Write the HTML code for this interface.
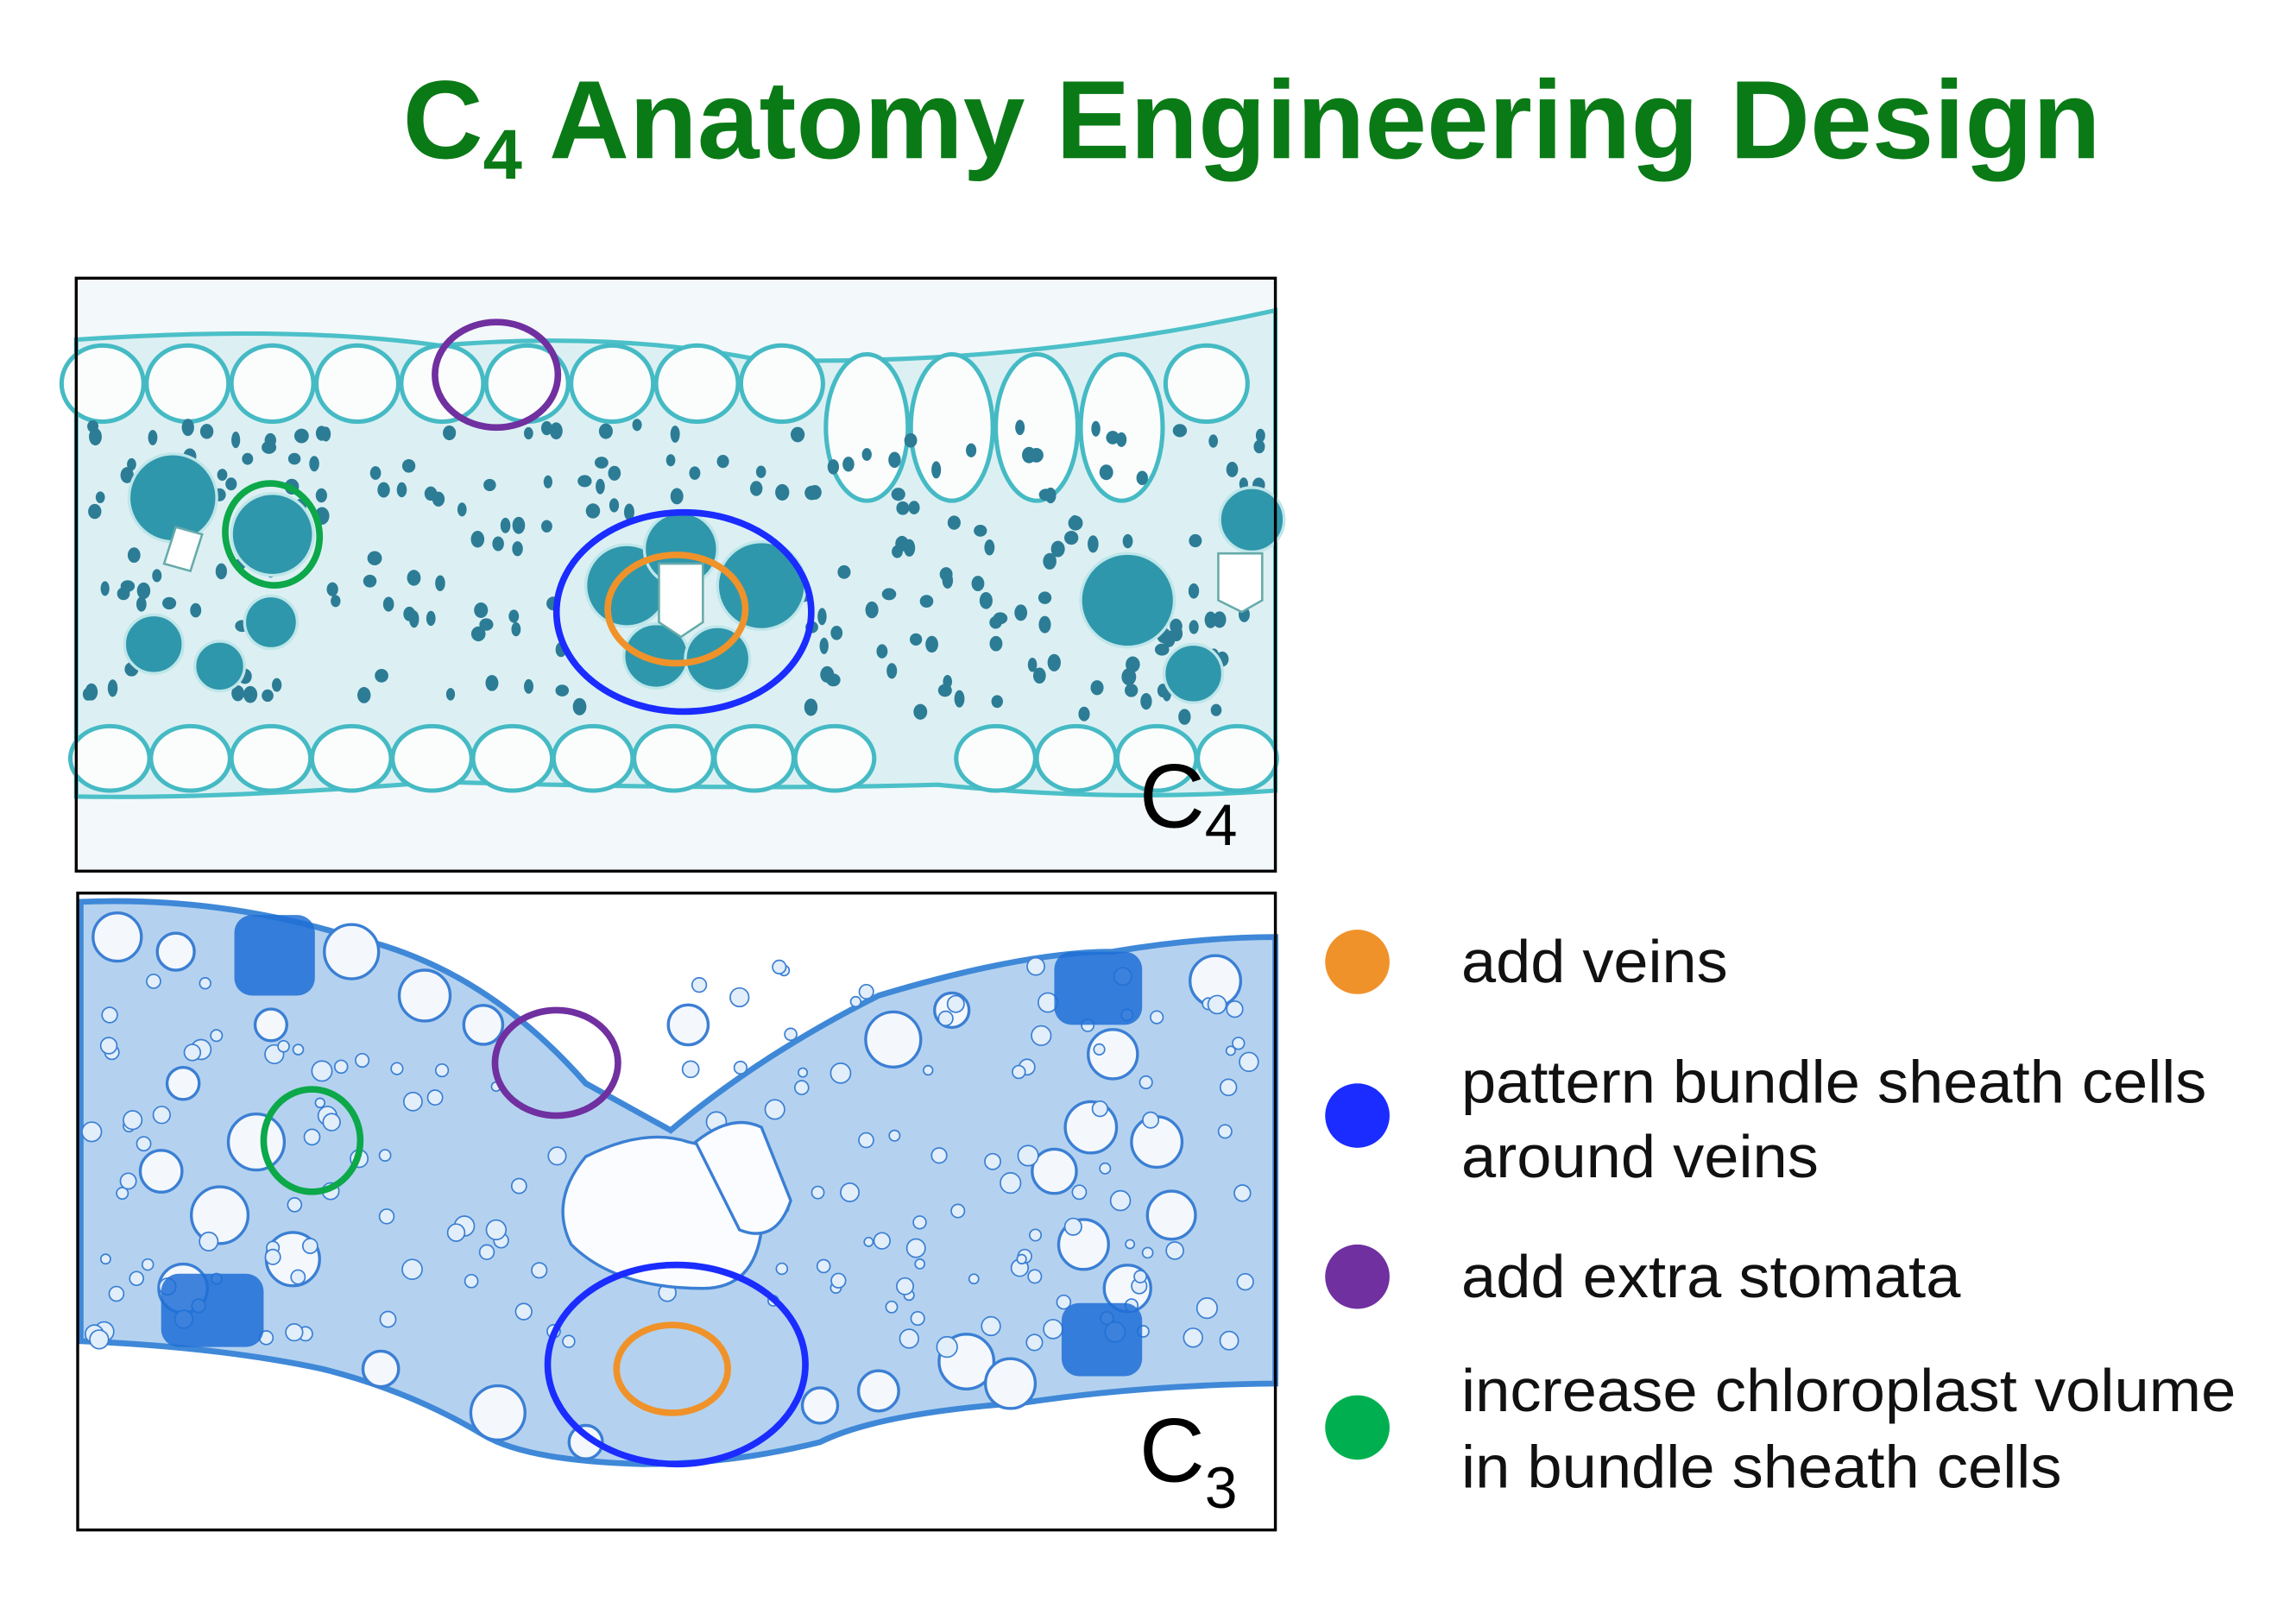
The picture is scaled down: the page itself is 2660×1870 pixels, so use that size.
<!DOCTYPE html>
<html><head><meta charset="utf-8"><style>
html,body{margin:0;padding:0;background:#fff;}
svg{display:block;}
</style></head><body>
<svg id="s" width="2660" height="1870" viewBox="0 0 1568 1102.4" xmlns="http://www.w3.org/2000/svg">
<rect width="1568" height="1102.4" fill="#fff"/>
<text x="275" y="108" font-family="Liberation Sans, sans-serif" font-weight="bold" font-size="76" fill="#0a7a16">C<tspan font-size="48" dy="14">4</tspan><tspan dy="-14"> Anatomy Engineering Design</tspan></text>

<!-- top panel -->
<g id="top">
<rect x="52" y="190" width="819" height="405" fill="#f3f8fa"/>
<path d="M52,232 Q200,222 300,236 Q420,226 520,246 Q700,250 871,212 L871,540 Q760,548 640,536 Q500,540 300,534 Q150,546 52,544 Z" fill="#dcf0f3" stroke="#4cc0c8" stroke-width="3"/>
<g id="topcells" fill="#fbfdfd" stroke="#45bac4" stroke-width="3"></g>
<g id="topdots" fill="#2c7c96"></g>
<g fill="#2f97ab" stroke="#bfe6ea" stroke-width="2">
<circle cx="428" cy="400" r="28"/><circle cx="520" cy="400" r="30"/><circle cx="465" cy="375" r="25"/>
<circle cx="448" cy="448" r="22"/><circle cx="490" cy="450" r="22"/>
<circle cx="118" cy="340" r="30"/><circle cx="186" cy="365" r="28"/><circle cx="105" cy="440" r="20"/><circle cx="150" cy="455" r="17"/><circle cx="185" cy="425" r="18"/>
<circle cx="770" cy="410" r="32"/><circle cx="855" cy="355" r="22"/><circle cx="815" cy="460" r="20"/>
</g>
<path d="M450,385 L450,425 L465,435 L480,425 L480,385 Z" fill="#fff" stroke="#6aa" stroke-width="1.5"/>
<path d="M120,360 L112,385 L130,390 L138,365 Z" fill="#fff" stroke="#6aa" stroke-width="1.5"/>
<path d="M832,378 L832,410 L848,418 L862,410 L862,378 Z" fill="#fff" stroke="#6aa" stroke-width="1.5"/>
<rect x="52" y="190" width="819" height="405" fill="none" stroke="#000" stroke-width="2"/>
<text x="778" y="565" font-family="Liberation Sans, sans-serif" font-size="62" fill="#000">C<tspan font-size="40" dy="12">4</tspan></text>
<g fill="none" stroke-width="4.5">
<ellipse cx="339" cy="256" rx="42" ry="36" stroke="#7030a0"/>
<ellipse cx="186" cy="365" rx="32" ry="35" transform="rotate(-15 186 365)" stroke="#0ca84a"/>
<ellipse cx="467" cy="418" rx="87" ry="68" stroke="#1a2cff"/>
<ellipse cx="462" cy="416" rx="47" ry="37" stroke="#f0922a"/>
</g>
</g>

<!-- bottom panel -->
<g id="bot">
<rect x="53" y="610" width="818" height="435" fill="#fff"/>
<path id="bt" d="M55,616 Q150,612 240,640 Q330,660 400,740 L458,772 Q520,720 600,680 Q700,650 760,650 Q820,640 871,640 L871,945 Q780,946 700,958 Q600,965 560,985 Q500,1000 440,1000 Q360,998 330,980 Q280,950 220,935 Q150,920 55,916 Z" fill="#b4d2ef" stroke="#3f88d8" stroke-width="4"/>
<g id="botcells" fill="#f4f8fd" stroke="#3b7fd4" stroke-width="2"></g>
<g fill="#1e6fd6" opacity="0.85">
<rect x="160" y="625" width="55" height="55" rx="12"/><rect x="110" y="870" width="70" height="50" rx="12"/>
<rect x="720" y="650" width="60" height="50" rx="12"/><rect x="725" y="890" width="55" height="50" rx="12"/>
</g>
<path d="M400,790 Q440,770 470,780 Q520,790 520,840 Q515,880 480,880 Q420,880 390,850 Q375,820 400,790 Z" fill="#fafcff" stroke="#3b7fd4" stroke-width="2"/>
<path d="M475,780 Q500,760 520,770 L540,820 Q530,850 505,840 Z" fill="#fafcff" stroke="#3b7fd4" stroke-width="2"/>
<rect x="53" y="610" width="818" height="435" fill="none" stroke="#000" stroke-width="2"/>
<text x="778" y="1012" font-family="Liberation Sans, sans-serif" font-size="62" fill="#000">C<tspan font-size="40" dy="18">3</tspan></text>
<g fill="none" stroke-width="4.5">
<ellipse cx="380" cy="726" rx="42" ry="36" stroke="#7030a0"/>
<ellipse cx="213" cy="779" rx="33" ry="35" stroke="#0ca84a"/>
<ellipse cx="462" cy="932" rx="88" ry="68" stroke="#1a2cff"/>
<ellipse cx="459" cy="935" rx="38" ry="30" stroke="#f0922a"/>
</g>
</g>

<!-- legend -->
<g font-family="Liberation Sans, sans-serif" font-size="41" fill="#111">
<circle cx="927" cy="657" r="22" fill="#f0922a"/>
<circle cx="927" cy="762" r="22" fill="#1a2cff"/>
<circle cx="927" cy="872" r="22" fill="#7030a0"/>
<circle cx="927" cy="975" r="22" fill="#00b050"/>
<text x="998" y="671" textLength="182" lengthAdjust="spacingAndGlyphs">add veins</text>
<text x="998" y="753" textLength="509" lengthAdjust="spacingAndGlyphs">pattern bundle sheath cells</text>
<text x="998" y="804" textLength="244" lengthAdjust="spacingAndGlyphs">around veins</text>
<text x="998" y="886" textLength="341" lengthAdjust="spacingAndGlyphs">add extra stomata</text>
<text x="998" y="964" textLength="529" lengthAdjust="spacingAndGlyphs">increase chloroplast volume</text>
<text x="998" y="1016" textLength="410" lengthAdjust="spacingAndGlyphs">in bundle sheath cells</text>
</g>
</svg>
<script>
(function(){
var ns="http://www.w3.org/2000/svg";var seed=7;function r(){seed=(seed*16807)%2147483647;return seed/2147483647;}
function el(g,t,a){var e=document.createElementNS(ns,t);for(var k in a)e.setAttribute(k,a[k]);g.appendChild(e);}
var tc=document.getElementById("topcells");
for(var x=70;x<871;x+=58){var tall=(x>540&&x<780);el(tc,"ellipse",{cx:x,cy:tall?292:262,rx:28,ry:tall?50:26});}
for(var x=75;x<871;x+=55){if(x>590&&x<640)continue;el(tc,"ellipse",{cx:x,cy:518,rx:27,ry:22});}
var td=document.getElementById("topdots");
for(var i=0;i<260;i++){var x=60+r()*805,y=290+r()*200;if(Math.abs(x-467)<80&&Math.abs(y-418)<60)continue;el(td,"ellipse",{cx:x,cy:y,rx:3+r()*2,ry:4+r()*2});}
var bc=document.getElementById("botcells");
var pts=[[80,640],[120,650],[185,700],[125,740],[110,800],[150,830],[125,880],[200,860],[175,780],[240,650],[290,680],[330,700],[760,720],[745,770],[790,780],[720,800],[800,830],[740,850],[770,880],[650,690],[610,710],[830,670],[560,960],[600,950],[400,985],[340,965],[260,935],[470,700],[660,930],[690,945]];
pts.forEach(function(p){el(bc,"circle",{cx:p[0],cy:p[1],r:10+r()*10});});
for(var i=0;i<200;i++){var x=60+r()*800,y=660+r()*260;if(y<640+(x<460?(x-55)*0.35:0))continue;el(bc,"circle",{cx:x,cy:y,r:3+r()*4,"stroke-width":1,fill:"#e2eefa"});}
})();
</script>
</body></html>
